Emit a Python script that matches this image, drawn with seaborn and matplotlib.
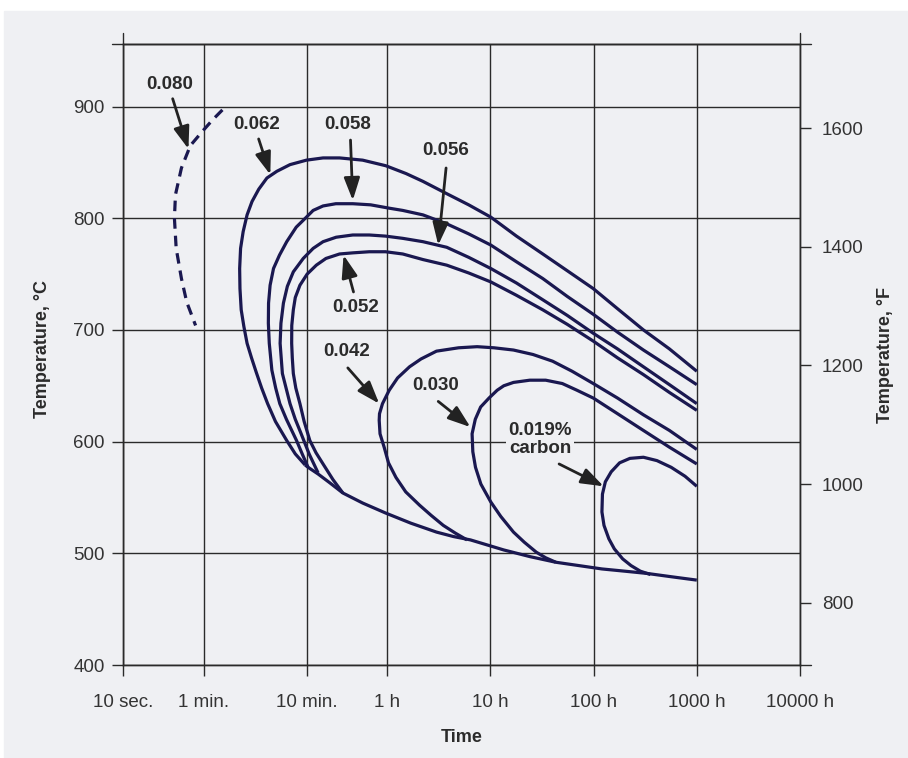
import numpy as np
import pandas as pd
import matplotlib.pyplot as plt
import seaborn as sns
from matplotlib.patches import Rectangle
from matplotlib.ticker import NullLocator

# curves: time as log10(hours), temperature in deg C (drawing order)
c080_logh = [-1.596, -1.692, -1.788, -1.907, -1.993, -2.051, -2.061, -2.044, -1.993, -1.942, -1.856]
c080_t = [897, 888, 878, 865, 845, 821, 800, 773, 746, 725, 704]

c062_logh = [3.0, 2.735, 2.483, 2.232, 1.997, 1.745, 1.508, 1.253, 1.004, 0.790, 0.577, 0.347,
             0.183, -0.013, -0.237, -0.461, -0.621, -0.782, -0.941, -1.069, -1.165, -1.244,
             -1.309, -1.357, -1.395, -1.420, -1.429, -1.426, -1.414, -1.388, -1.357, -1.314,
             -1.268, -1.216, -1.158, -1.082, -0.973, -0.890, -0.794]
c062_t = [663, 683, 700, 719, 737, 753, 768, 784, 801, 812, 822, 833,
          840, 847, 852, 854, 854, 852, 848, 842, 836, 826,
          815, 803, 788, 773, 755, 737, 718, 703, 688, 675,
          662, 648, 634, 618, 601, 589, 579]

c058_logh = [3.0, 2.735, 2.483, 2.232, 1.997, 1.745, 1.508, 1.253, 1.004, 0.790, 0.577, 0.347,
             0.151, 0.020, -0.160, -0.333, -0.497, -0.621, -0.717, -0.782, -0.881, -0.973,
             -1.043, -1.101, -1.134, -1.149, -1.151, -1.142, -1.117, -1.080, -1.040, -0.976,
             -0.878, -0.823, -0.766]
c058_t = [651, 667, 682, 698, 714, 730, 746, 761, 776, 786, 795, 803,
          807, 809, 812, 813, 813, 811, 807, 801, 792, 779,
          767, 755, 740, 724, 706, 688, 664, 648, 634, 620,
          601, 589, 577]

c056_logh = [3.0, 2.735, 2.483, 2.232, 1.997, 1.745, 1.508, 1.253, 1.004, 0.790, 0.577, 0.347,
             0.151, -0.016, -0.173, -0.333, -0.494, -0.621, -0.717, -0.813, -0.909, -0.967,
             -1.005, -1.029, -1.037, -1.015, -0.941, -0.890, -0.833, -0.756, -0.669]
c056_t = [634, 651, 667, 683, 697, 713, 727, 742, 755, 765, 774, 779,
          782, 784, 785, 785, 783, 779, 773, 764, 752, 739,
          724, 706, 688, 661, 634, 620, 607, 589, 572]

c052_logh = [3.0, 2.735, 2.483, 2.232, 1.997, 1.745, 1.508, 1.253, 1.004, 0.790, 0.577, 0.347,
             0.151, -0.016, -0.173, -0.333, -0.461, -0.593, -0.686, -0.775, -0.845, -0.890,
             -0.909, -0.924, -0.925, -0.919, -0.909, -0.885, -0.845, -0.804, -0.749, -0.689,
             -0.621, -0.525, -0.429]
c052_t = [628, 644, 660, 675, 690, 705, 718, 731, 743, 751, 758, 763,
          768, 770, 770, 769, 768, 764, 758, 750, 740, 729,
          718, 704, 688, 675, 661, 648, 634, 618, 601, 590,
          580, 566, 554]

c042_logh = [3.0, 2.735, 2.483, 2.232, 1.997, 1.792, 1.603, 1.413, 1.224, 1.035, 0.872, 0.692,
             0.478, 0.328, 0.217, 0.101, 0.020, -0.045, -0.074, -0.077, -0.069, -0.029,
             0.013, 0.085, 0.180, 0.315, 0.426, 0.544, 0.662, 0.774]
c042_t = [593, 610, 624, 639, 652, 663, 672, 678, 682, 684, 685, 684,
          681, 674, 667, 657, 646, 634, 625, 619, 607, 595,
          581, 568, 555, 543, 534, 525, 518, 512]

c030_logh = [3.0, 2.735, 2.483, 2.232, 1.997, 1.839, 1.697, 1.536, 1.382, 1.224, 1.130, 1.066,
             0.987, 0.906, 0.854, 0.823, 0.830, 0.856, 0.908, 1.004, 1.101, 1.224, 1.328,
             1.445, 1.536, 1.634]
c030_t = [580, 595, 610, 625, 639, 646, 652, 655, 655, 653, 650, 646,
          639, 631, 620, 607, 591, 577, 562, 546, 533, 519, 510,
          501, 496, 492]

c019_logh = [3.0, 2.886, 2.752, 2.614, 2.483, 2.352, 2.252, 2.171, 2.114, 2.086, 2.081, 2.101,
             2.148, 2.201, 2.282, 2.363, 2.453, 2.551]
c019_t = [560, 569, 577, 583, 586, 585, 581, 573, 564, 553, 537, 525,
          513, 504, 495, 489, 484, 481]

# common lower boundary the curves run into
base_logh = [-0.794, -0.766, -0.669, -0.554, -0.429, -0.237, -0.013, 0.229, 0.478, 0.643, 0.807,
             0.987, 1.130, 1.385, 1.634, 1.858, 2.081, 2.302, 2.517, 2.755, 3.0]
base_t = [579, 577, 571, 563, 554, 545, 536, 527, 519, 515, 512,
          507, 503, 497, 492, 489, 486, 484, 482, 479, 476]

# labels: text, text position, arrow tail, arrow tip (log10 hours, deg C)
lab_text = ['0.080', '0.062', '0.058', '0.056', '0.052', '0.042', '0.030', '0.019%\ncarbon']
lab_pos = [(-2.106, 920), (-1.264, 884), (-0.381, 884), (0.567, 861),
           (-0.307, 720), (-0.391, 681), (0.472, 650), (1.480, 602)]
arr_tail = [(-2.078, 907), (-1.245, 871), (-0.355, 870), (0.571, 845),
            (-0.326, 734), (-0.381, 666), (0.495, 636), (1.666, 580)]
arr_tip = [(-1.925, 862), (-1.132, 839), (-0.333, 816), (0.495, 776),
           (-0.422, 767), (-0.077, 634), (0.807, 613), (2.098, 560)]

xtick_h = [10 / 3600, 1 / 60, 10 / 60, 1, 10, 100, 1000, 10000]
xtick_lab = ['10 sec.', '1 min.', '10 min.', '1 h', '10 h', '100 h', '1000 h', '10000 h']
ytick_c = [400, 500, 600, 700, 800, 900]
ytick_f = [800, 1000, 1200, 1400, 1600]

bg = '#eff0f3'
navy = '#1a1850'
ink = '#2a2a2a'

sns.set_theme(style='white')
plt.rcParams['font.family'] = ['Liberation Sans', 'DejaVu Sans']

fig = plt.figure(figsize=(9.08, 7.58), dpi=100)
fig.patches.append(Rectangle((4 / 908, 0), 1, 1 - 11 / 758, transform=fig.transFigure,
                             color=bg, zorder=-10))
ax = fig.add_axes([123.3 / 908, 1 - 665 / 758, 676.7 / 908, 621 / 758])
ax.set_facecolor(bg)
ax.set_xscale('log')

solid = [(c062_logh, c062_t), (c058_logh, c058_t), (c056_logh, c056_t), (c052_logh, c052_t),
         (c042_logh, c042_t), (c030_logh, c030_t), (c019_logh, c019_t), (base_logh, base_t)]
for lh, t in solid:
    df = pd.DataFrame({'hours': 10 ** np.array(lh), 'temp': t})
    sns.lineplot(data=df, x='hours', y='temp', sort=False, estimator=None,
                 color=navy, lw=2.3, solid_capstyle='butt', solid_joinstyle='round',
                 ax=ax, zorder=3)

df080 = pd.DataFrame({'hours': 10 ** np.array(c080_logh), 'temp': c080_t})
sns.lineplot(data=df080, x='hours', y='temp', sort=False, estimator=None, color=navy,
             lw=2.3, linestyle=(0, (3.3, 2.2)), dash_capstyle='butt', ax=ax, zorder=3)

for txt, p, a, b in zip(lab_text, lab_pos, arr_tail, arr_tip):
    ax.text(10 ** p[0], p[1], txt, ha='center', va='center', fontsize=13.5,
            fontweight='bold', color='#2b2b2b', linespacing=1.1, zorder=5,
            bbox=dict(boxstyle='square,pad=0.1', fc=bg, ec='none'))
    ax.annotate('', xy=(10 ** b[0], b[1]), xytext=(10 ** a[0], a[1]), zorder=5,
                arrowprops=dict(arrowstyle='-|>,head_length=0.85,head_width=0.3',
                                mutation_scale=16, lw=2.0, color='#222222',
                                shrinkA=0, shrinkB=0))

ax.set_xlim(10 / 3600, 10000)
ax.set_xticks(xtick_h)
ax.set_xticklabels(xtick_lab)
ax.xaxis.set_minor_locator(NullLocator())
ax.set_yticks(ytick_c)
ax.grid(True, color=ink, lw=1.0)
ax.set_axisbelow(True)
ax.tick_params(axis='both', bottom=True, left=True, direction='out', length=7.9, width=1.0,
               color=ink, labelsize=13.5, labelcolor='#333333')
ax.tick_params(axis='x', pad=13)
ax.tick_params(axis='y', pad=5.5)
for s in ax.spines.values():
    s.set_color(ink)
    s.set_linewidth(1.0)

# frame lines that run a little past the plot area, like the original
ext_x = 11 / 676.7
ext_y = 11 / 621
ax.axhline(956, xmin=-ext_x, xmax=1 + ext_x, color=ink, lw=1.0, clip_on=False)
ax.axhline(400, xmin=1, xmax=1 + ext_x, color=ink, lw=1.0, clip_on=False)
ax.axvline(10 / 3600, ymin=1, ymax=1 + ext_y, color=ink, lw=1.0, clip_on=False)
ax.axvline(10000, ymin=1, ymax=1 + ext_y, color=ink, lw=1.0, clip_on=False)
ax.set_ylim(400, 956)

ax.set_xlabel('Time', fontsize=13, fontweight='bold', color='#2b2b2b', va='center')
ax.xaxis.set_label_coords(0.5, (665 - 737) / 621)
ax.set_ylabel('Temperature, °C', fontsize=13, fontweight='bold', color='#2b2b2b',
              va='center', ha='center')
ax.yaxis.set_label_coords((42 - 123.3) / 676.7, (665 - 349) / 621)

ax2 = ax.twinx()
ax2.set_ylim(695, 1742)
ax2.set_yticks(ytick_f)
ax2.grid(False)
ax2.tick_params(axis='y', right=True, direction='out', length=7.9, width=1.0, color=ink,
                labelsize=13.5, labelcolor='#333333', pad=8)
for s in ax2.spines.values():
    s.set_color(ink)
    s.set_linewidth(1.0)
ax2.set_ylabel('Temperature, °F', fontsize=13, fontweight='bold', color='#2b2b2b',
               va='center', ha='center')
ax2.yaxis.set_label_coords((885 - 123.3) / 676.7, (665 - 355) / 621)

fig.savefig('out.png', dpi=100, facecolor='white')
